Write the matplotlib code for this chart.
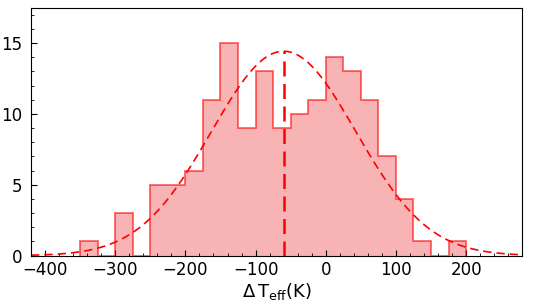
import numpy as np
import matplotlib
matplotlib.use('Agg')
import matplotlib.pyplot as plt
from matplotlib.ticker import MultipleLocator

# histogram counts, bins of 25 K starting at -350
bin_edges = [-350, -325, -300, -275, -250, -225, -200, -175, -150, -125, -100,
             -75, -50, -25, 0, 25, 50, 75, 100, 125, 150, 175, 200]
counts = [1, 0, 3, 0, 5, 5, 6, 11, 15, 9, 13, 9, 10, 11, 14, 13, 11, 7, 4, 1, 0, 1]

# gaussian fit
mu = -60
sigma = 103
n_total = sum(counts)
bin_w = 25

fig, ax = plt.subplots(figsize=(5.44, 3.08), dpi=100)
fig.subplots_adjust(left=0.057, right=0.96, top=0.975, bottom=0.17)

centers = np.array(bin_edges[:-1]) + bin_w / 2
ax.hist(centers, bins=bin_edges, weights=counts, histtype='stepfilled',
        facecolor='#f8b4b4', edgecolor='none')
ax.hist(centers, bins=bin_edges, weights=counts, histtype='step',
        edgecolor='red', alpha=0.6, lw=1.3)

x = np.linspace(-420, 280, 600)
y = n_total * bin_w / (sigma * np.sqrt(2 * np.pi)) * np.exp(-0.5 * ((x - mu) / sigma) ** 2)
ax.plot(x, y, color='red', ls=(0, (5, 3)), lw=1.2)
ax.plot([mu, mu], [0, y.max()], color='red', ls=(0, (6, 3)), lw=1.8)

ax.set_xlim(-420, 280)
ax.set_ylim(0, 17.5)
ax.xaxis.set_major_locator(MultipleLocator(100))
ax.xaxis.set_minor_locator(MultipleLocator(20))
ax.yaxis.set_major_locator(MultipleLocator(5))
ax.yaxis.set_minor_locator(MultipleLocator(1))
ax.tick_params(which='both', direction='in', top=False, right=False, labelsize=12)
ax.tick_params(which='major', length=4)
ax.tick_params(which='minor', length=2)
ax.tick_params(axis='y', pad=6)
ax.set_xlabel(r'$\Delta\,\mathrm{T_{eff}(K)}$', fontsize=13, labelpad=2)

fig.savefig('out.png')
